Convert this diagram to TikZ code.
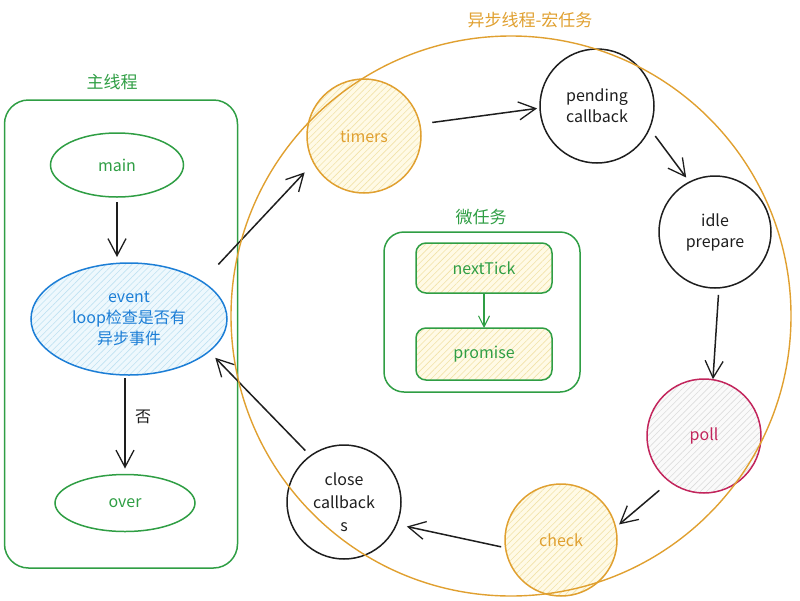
\documentclass[tikz,border=0pt]{standalone}
\usepackage{fontspec}
\setmainfont{Noto Sans CJK SC}
\usetikzlibrary{arrows.meta,patterns.meta,shapes.geometric}
\definecolor{exgreen}{HTML}{2F9E44}
\definecolor{exblue}{HTML}{1C7ED6}
\definecolor{exorange}{HTML}{E0A030}
\definecolor{exred}{HTML}{C2255C}
\definecolor{ylfill}{HTML}{FFFAE6}
\definecolor{ylhatch}{HTML}{F2E2A8}
\definecolor{blfill}{HTML}{EEF8FD}
\definecolor{blhatch}{HTML}{BFE2F2}
\definecolor{gyfill}{HTML}{FAFAFA}
\definecolor{gyhatch}{HTML}{DCDCDC}
\definecolor{inkc}{HTML}{1E1E1E}
\begin{document}
\begin{tikzpicture}[x=1pt,y=-1pt,
  every node/.style={font=\fontsize{16}{21}\selectfont, align=center, inner sep=0pt, outer sep=0pt},
  titlet/.style={font=\fontsize{17}{20}\selectfont},
  ln/.style={line width=1.5pt},
  hatchy/.style={preaction={fill=ylfill}, pattern={Lines[angle=45,distance=4.5pt,line width=0.6pt]}, pattern color=ylhatch},
  hatchb/.style={preaction={fill=blfill}, pattern={Lines[angle=45,distance=4.5pt,line width=0.6pt]}, pattern color=blhatch},
  hatchg/.style={preaction={fill=gyfill}, pattern={Lines[angle=45,distance=4.5pt,line width=0.6pt]}, pattern color=gyhatch},
  phase/.style={circle, ln, minimum size=#1},
  phase/.default=114pt,
  arr/.style={draw=inkc, line width=1.5pt, -{Straight Barb[length=17pt,width=18pt,line width=1.3pt]}},
]
\useasboundingbox (0,0) rectangle (800,600);

% main thread
\node[titlet, text=exgreen] (maintitle) at (112,82) {主线程};
\node[draw=exgreen, ln, rounded corners=24pt, minimum width=233pt, minimum height=468pt] (mainbox) at (121,334) {};
\node[ellipse, draw=exgreen, ln, text=exgreen, minimum width=133pt, minimum height=64pt] (main) at (117,165) {main};
\node[ellipse, draw=exblue, ln, text=exblue, hatchb, minimum width=196pt, minimum height=112pt] (event) at (129,319) {event\\loop检查是否有\\异步事件};
\node[ellipse, draw=exgreen, ln, text=exgreen, minimum width=140pt, minimum height=57pt] (over) at (125,503) {over};

\draw[arr, shorten <=5pt, shorten >=6pt] (main.south) -- (main.south |- event.north);
\draw[arr, shorten <=3pt, shorten >=6pt] (over.north |- event.south) -- (over.north)
  node[pos=0.42, right=10pt, text=inkc] (nolabel) {否};

% micro tasks
\node[titlet, text=exgreen] (microtitle) at (481,217) {微任务};
\node[draw=exgreen, ln, rounded corners=20pt, minimum width=196pt, minimum height=160pt] (microbox) at (482,312) {};
\node[draw=exgreen, ln, text=exgreen, hatchy, rounded corners=10pt, minimum width=136pt, minimum height=50pt] (nexttick) at (484,268) {nextTick};
\node[draw=exgreen, ln, text=exgreen, hatchy, rounded corners=10pt, minimum width=136pt, minimum height=52pt] (promise) at (484,354) {promise};
\draw[draw=exgreen, line width=1.3pt, -{Straight Barb[length=11pt,width=11pt,line width=1.1pt]}] (nexttick.south) -- (promise.north);

% macro phases
\node[phase, draw=exorange, text=exorange, hatchy] (timers) at (364,136) {timers};
\node[phase, draw=inkc, text=inkc] (pending) at (597,106) {pending\\callback};
\node[phase=112pt, draw=inkc, text=inkc] (idle) at (715,232) {idle\\prepare};
\node[phase, draw=exred, text=exred, hatchg] (poll) at (704,436) {poll};
\node[phase=112pt, draw=exorange, text=exorange, hatchy] (check) at (561,540) {check};
\node[phase, draw=inkc, text=inkc, font=\fontsize{16}{23}\selectfont] (close) at (344,502) {close\\callback\\s};

\draw[arr, shorten <=12.6pt, shorten >=3pt] (timers.12.4) -- (pending.182);
\draw[arr, shorten <=9.7pt, shorten >=5.7pt] (pending.-23.9) -- (idle.117);
\draw[arr, shorten <=7pt, shorten >=0.5pt] (idle.-86.4) -- (poll.81.9);
\draw[arr, shorten <=13.6pt, shorten >=4.6pt] (poll.-127.5) -- (check.13.3);
\draw[arr, shorten <=4.5pt, shorten >=10.6pt] (check.-172.4) -- (close.-23.5);
\draw[arr, shorten <=7.4pt, shorten >=9pt] (close.126.2) -- (event.-22.2);
\draw[arr, shorten <=23.7pt, shorten >=13.2pt] (event.27.8) -- (timers.208);

% macro task loop
\node[titlet, text=exorange] (looptitle) at (530,20) {异步线程-宏任务};
\node[circle, draw=exorange, line width=1.4pt, minimum size=560pt] (loop) at (511,316) {};
\end{tikzpicture}
\end{document}
